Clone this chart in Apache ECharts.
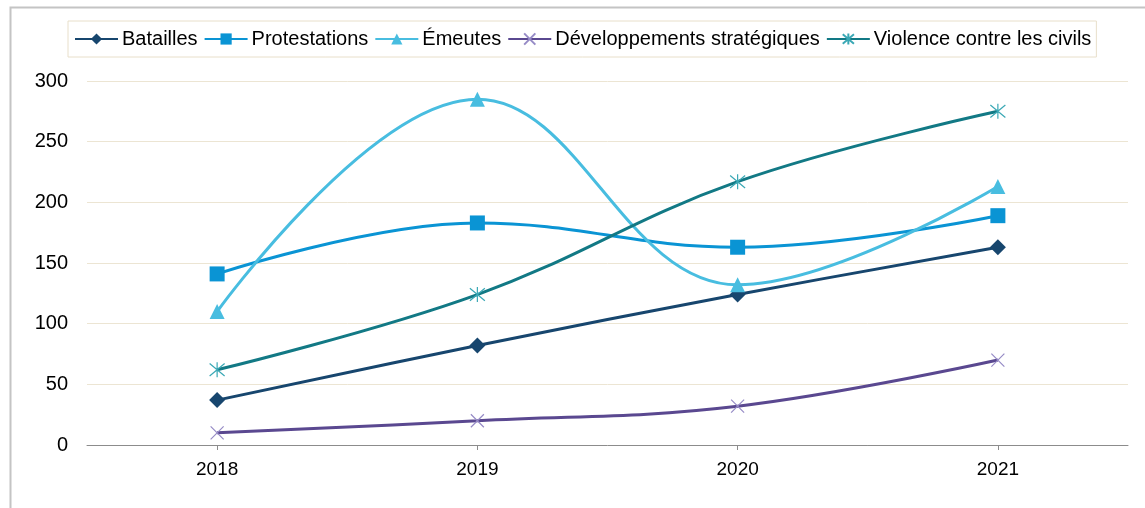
<!DOCTYPE html>
<html>
<head>
<meta charset="utf-8">
<script src="https://cdn.jsdelivr.net/npm/echarts@6/dist/echarts.min.js"></script>
<style>
html,body{margin:0;padding:0;background:#fff;}
#chart{width:1145px;height:508px;}
</style>
</head>
<body>
<div id="chart"></div>
<script>
const categories = ['2018', '2019', '2020', '2021'];
const seriesNames = ['Batailles', 'Protestations', 'Émeutes', 'Développements stratégiques', 'Violence contre les civils'];
const batailles = [37, 82, 124, 163];
const protestations = [141, 183, 163, 189];
const emeutes = [110, 285, 132, 213];
const developpements = [10, 20, 32, 70];
const violence = [62, 124, 217, 275];

const FONT = '"Liberation Sans", Arial, sans-serif';
const chart = echarts.init(document.getElementById('chart'), null, {renderer: 'canvas'});

function mk(name, data, lineColor, symbol, symbolSize, itemStyle) {
  return {
    name: name, type: 'line', data: data, smooth: 0.4,
    symbol: symbol, symbolSize: symbolSize, showAllSymbol: true,
    lineStyle: {color: lineColor, width: 3},
    itemStyle: itemStyle,
    emphasis: {disabled: true},
    animation: false
  };
}
const X_PATH = 'path://M0,0L10,10M10,0L0,10';
const AST_PATH = 'path://M0,0L10,10M10,0L0,10M5,-1L5,11';

chart.setOption({
  animation: false,
  graphic: [{
    type: 'rect', left: 8, top: 5, silent: true,
    shape: {width: 1160, height: 520},
    style: {fill: 'none', stroke: '#c4c4c4', lineWidth: 2}
  }],
  legend: {
    left: 68, top: 21,
    data: seriesNames,
    itemWidth: 43, itemHeight: 14, itemGap: 6,
    padding: [8, 5, 8, 6],
    borderColor: '#e8dfca', borderWidth: 1,
    textStyle: {fontFamily: FONT, fontSize: 20, color: '#000', padding: [0, 0, 0, -1]}
  },
  grid: {left: 87, right: 17, top: 81, bottom: 63, containLabel: false},
  xAxis: {
    type: 'category', data: categories, boundaryGap: true,
    axisLine: {lineStyle: {color: '#8c8c8c', width: 1}},
    axisTick: {show: true, alignWithLabel: true, length: 5, lineStyle: {color: '#8c8c8c'}},
    axisLabel: {fontFamily: FONT, fontSize: 19, color: '#000', margin: 15},
    splitLine: {show: false}
  },
  yAxis: {
    type: 'value', min: 0, max: 300, interval: 50,
    axisLine: {show: false}, axisTick: {show: false},
    axisLabel: {fontFamily: FONT, fontSize: 20, color: '#000', margin: 19},
    splitLine: {lineStyle: {color: '#ece5d3', width: 1}}
  },
  series: [
    mk(seriesNames[0], batailles, '#17466e', 'diamond', 16, {color: '#17466e'}),
    mk(seriesNames[1], protestations, '#0a94d4', 'rect', 15, {color: '#0a94d4'}),
    mk(seriesNames[2], emeutes, '#48bde0', 'triangle', 15, {color: '#48bde0'}),
    mk(seriesNames[3], developpements, '#5a4890', X_PATH, 13, {color: 'rgba(0,0,0,0)', borderColor: '#968bc6', borderWidth: 1.2}),
    mk(seriesNames[4], violence, '#127985', AST_PATH, 15, {color: 'rgba(0,0,0,0)', borderColor: '#3aa8b5', borderWidth: 1.2})
  ]
});
</script>
</body>
</html>
